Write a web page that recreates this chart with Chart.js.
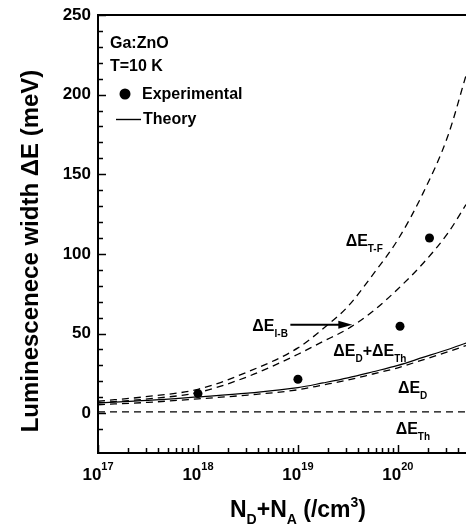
<!DOCTYPE html>
<html>
<head>
<meta charset="UTF-8">
<title>Luminescence width vs doping</title>
<script src="https://cdn.jsdelivr.net/npm/chart.js@4.4.1/dist/chart.umd.min.js"></script>
<style>
  body { margin: 0; background: #fff; overflow: hidden; }
  #wrap { width: 466px; height: 529px; }
</style>
</head>
<body>
<div id="wrap"><canvas id="chart"></canvas></div>
<script>
const nValues = [1e17, 3.16e17, 1e18, 3.16e18, 1e19, 1.78e19, 3.16e19, 5.62e19, 1e20, 1.78e20, 3.16e20, 4.8e20];
const tfWidth  = [7.5, 10.5, 15, 26, 41, 53, 67, 87, 109, 138, 174, 212];
const ibWidth  = [6.5, 9, 13, 23, 37, 45, 53, 64, 78, 94, 113, 131];
const dThWidth = [6.5, 8, 10.2, 12.6, 16, 19, 22.2, 26, 30, 35, 40, 44];
const dWidth   = [5.3, 6.8, 9, 11.4, 14.7, 17.7, 20.8, 24.6, 28.5, 33.5, 38.5, 42.5];
const thWidth  = [0.8, 0.8];
const thN      = [1e17, 4.8e20];

// experimental points
const expN     = [1e18, 1e19, 1.05e20, 2.07e20];
const expWidth = [12.3, 21.3, 54.6, 110];

const yMajor = [0, 50, 100, 150, 200, 250];
const xDecades = [17, 18, 19, 20];

const FONT = '"Liberation Sans", Arial, sans-serif';

function pts(xs, ys) { return xs.map((v, i) => ({ x: v, y: ys[i] })); }

function rich(ctx, x, y, parts) {
  // parts: [text, size, dy]
  let cx = x;
  parts.forEach(p => {
    ctx.font = 'bold ' + p[1] + 'px ' + FONT;
    ctx.fillText(p[0], cx, y + (p[2] || 0));
    cx += ctx.measureText(p[0]).width;
  });
  return cx - x;
}
function richWidth(ctx, parts) {
  let w = 0;
  parts.forEach(p => { ctx.font = 'bold ' + p[1] + 'px ' + FONT; w += ctx.measureText(p[0]).width; });
  return w;
}

const decorations = {
  id: 'decorations',
  afterDraw(chart) {
    const { ctx, chartArea: a, scales: { x, y } } = chart;
    ctx.save();
    ctx.fillStyle = '#000';
    ctx.strokeStyle = '#000';

    // top frame line
    ctx.lineWidth = 2;
    ctx.beginPath();
    ctx.moveTo(a.left, a.top);
    ctx.lineTo(a.right, a.top);
    ctx.stroke();

    // inward ticks
    ctx.lineWidth = 1.5;
    y.ticks.forEach(t => {
      if (t.value % 10 !== 0) return;
      const py = Math.round(y.getPixelForValue(t.value)) + 0.5;
      const len = t.value % 50 === 0 ? 8 : 5;
      ctx.beginPath();
      ctx.moveTo(a.left, py);
      ctx.lineTo(a.left + len, py);
      ctx.stroke();
    });
    x.ticks.forEach(t => {
      const e = Math.floor(Math.log10(t.value) + 1e-9);
      const m = t.value / Math.pow(10, e);
      if (Math.abs(m - Math.round(m)) > 1e-6) return;
      const px = Math.round(x.getPixelForValue(t.value)) + 0.5;
      const len = Math.round(m) === 1 ? 8 : 5;
      ctx.beginPath();
      ctx.moveTo(px, a.bottom);
      ctx.lineTo(px, a.bottom - len);
      ctx.stroke();
    });

    // tick labels
    ctx.textBaseline = 'middle';
    ctx.textAlign = 'right';
    ctx.font = 'bold 17px ' + FONT;
    yMajor.forEach(v => ctx.fillText(String(v), 91, y.getPixelForValue(v)));

    ctx.textAlign = 'left';
    ctx.textBaseline = 'alphabetic';
    xDecades.forEach(d => {
      const parts = [['10', 17, 0], [String(d), 11, -10]];
      const w = richWidth(ctx, parts);
      rich(ctx, x.getPixelForValue(Math.pow(10, d)) - w / 2, 480, parts);
    });

    // axis titles
    const xt = [['N', 23, 0], ['D', 14, 7], ['+N', 23, 0], ['A', 14, 7], [' (/cm', 23, 0], ['3', 14, -10], [')', 23, 0]];
    rich(ctx, 230, 517, xt);

    ctx.save();
    ctx.translate(38, 251);
    ctx.rotate(-Math.PI / 2);
    ctx.textAlign = 'center';
    ctx.font = 'bold 24px ' + FONT;
    ctx.fillText('Luminescenece width \u0394E (meV)', 0, 0);
    ctx.restore();

    // curve labels
    const lab = (n, v, sub, extra) => {
      const px = x.getPixelForValue(n), py = y.getPixelForValue(v) + 6;
      let parts = [['\u0394E', 16, 0], [sub, 10, 6]];
      if (extra) parts = parts.concat(extra);
      rich(ctx, px, py, parts);
    };
    lab(3.0e19, 109, 'T-F');
    lab(3.5e18, 55.5, 'I-B');
    lab(2.26e19, 39.5, 'D', [['+\u0394E', 16, 0], ['Th', 10, 6]]);
    lab(1.0e20, 16.3, 'D');
    lab(9.5e19, -9.4, 'Th');

    // arrow to the I-B curve
    const ax0 = x.getPixelForValue(8.4e18), ax1 = x.getPixelForValue(3.5e19), ay = y.getPixelForValue(55.5);
    ctx.lineWidth = 2;
    ctx.beginPath();
    ctx.moveTo(ax0, ay);
    ctx.lineTo(ax1 - 10, ay);
    ctx.stroke();
    ctx.beginPath();
    ctx.moveTo(ax1, ay);
    ctx.lineTo(ax1 - 14, ay - 4);
    ctx.lineTo(ax1 - 14, ay + 4);
    ctx.closePath();
    ctx.fill();

    // legend block
    ctx.textBaseline = 'middle';
    ctx.font = 'bold 16px ' + FONT;
    ctx.fillText('Ga:ZnO', 110, 44);
    ctx.fillText('T=10 K', 110, 67);
    ctx.beginPath();
    ctx.arc(125, 94, 5.5, 0, Math.PI * 2);
    ctx.fill();
    ctx.fillText('Experimental', 142, 95);
    ctx.lineWidth = 1.4;
    ctx.beginPath();
    ctx.moveTo(116, 119.5);
    ctx.lineTo(141, 119.5);
    ctx.stroke();
    ctx.fillText('Theory', 143, 120);

    ctx.restore();
  }
};

const dashed = (label, xs, ys) => ({
  label, data: pts(xs, ys), borderColor: '#000', borderWidth: 1.3,
  borderDash: [7, 5], pointRadius: 0, fill: false, cubicInterpolationMode: 'monotone'
});

new Chart(document.getElementById('chart'), {
  type: 'line',
  data: {
    datasets: [
      dashed('T-F', nValues, tfWidth),
      dashed('I-B', nValues, ibWidth),
      { label: 'D+Th', data: pts(nValues, dThWidth), borderColor: '#000', borderWidth: 1.2,
        pointRadius: 0, fill: false, cubicInterpolationMode: 'monotone' },
      dashed('D', nValues, dWidth),
      dashed('Th', thN, thWidth),
      { label: 'Experimental', data: pts(expN, expWidth), showLine: false,
        pointRadius: 4.5, pointBackgroundColor: '#000', pointBorderColor: '#000', pointBorderWidth: 0 }
    ]
  },
  options: {
    responsive: true,
    maintainAspectRatio: false,
    animation: false,
    events: [],
    layout: { autoPadding: false, padding: { top: 15, right: 0 } },
    plugins: { legend: { display: false }, tooltip: { enabled: false } },
    scales: {
      x: {
        type: 'logarithmic', min: 1e17, max: 4.8e20,
        grid: { display: false, drawTicks: false },
        border: { display: true, color: '#000', width: 2 },
        ticks: { display: false },
        afterFit(s) { s.height = 76; }
      },
      y: {
        type: 'linear', min: -25, max: 250,
        grid: { display: false, drawTicks: false },
        border: { display: true, color: '#000', width: 2 },
        ticks: { display: false, stepSize: 10 },
        afterFit(s) { s.width = 98; }
      }
    }
  },
  plugins: [decorations]
});
</script>
</body>
</html>
